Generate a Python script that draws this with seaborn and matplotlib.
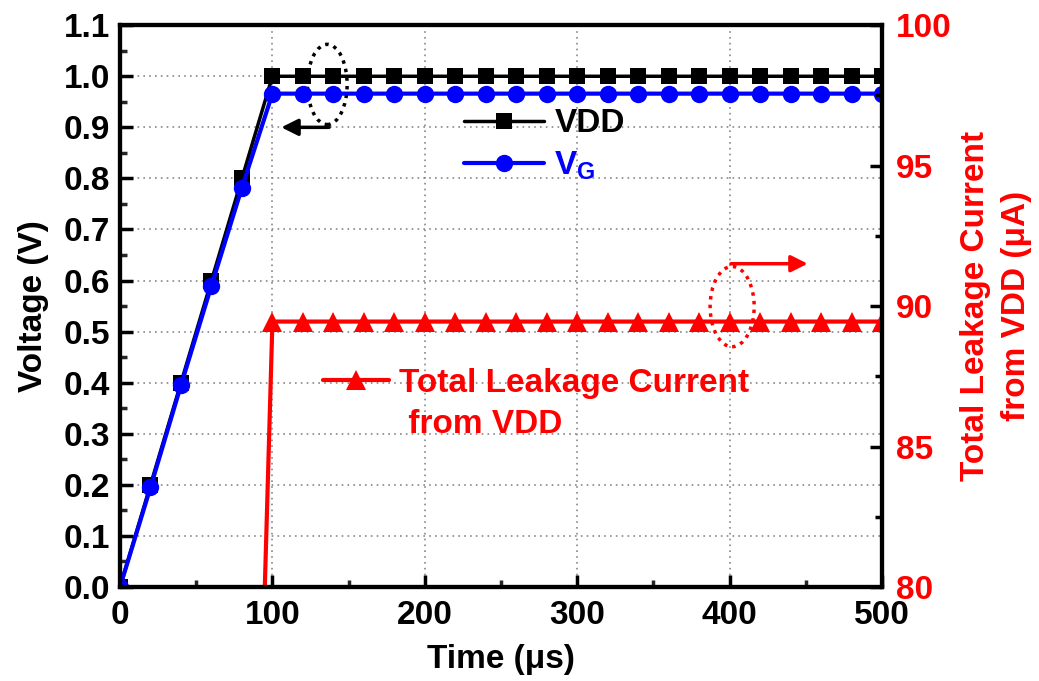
import numpy as np
import pandas as pd
import seaborn as sns
import matplotlib
matplotlib.use("Agg")
import matplotlib.pyplot as plt
from matplotlib.patches import Ellipse
from matplotlib.lines import Line2D
from matplotlib.ticker import MultipleLocator

# ---- data ----
time_v = [0, 20, 40, 60, 80, 100, 120, 140, 160, 180, 200, 220, 240, 260, 280,
          300, 320, 340, 360, 380, 400, 420, 440, 460, 480, 500]
vdd = [0.0, 0.2, 0.4, 0.6, 0.8] + [1.0] * 21
vg = [0.0, 0.195, 0.395, 0.59, 0.782] + [0.966] * 21
time_i = [95, 100, 120, 140, 160, 180, 200, 220, 240, 260, 280, 300, 320, 340,
          360, 380, 400, 420, 440, 460, 480, 500]
leak = [80.0] + [89.45] * 21
yticks_v = [0.0, 0.1, 0.2, 0.3, 0.4, 0.5, 0.6, 0.7, 0.8, 0.9, 1.0, 1.1]

sns.set_theme(style="ticks")
plt.rcParams['font.family'] = ['Liberation Sans', 'DejaVu Sans']
plt.rcParams['font.weight'] = 'bold'
plt.rcParams['text.color'] = 'black'
plt.rcParams['axes.labelcolor'] = 'black'
plt.rcParams['mathtext.fontset'] = 'custom'
plt.rcParams['mathtext.bf'] = 'Liberation Sans:bold'
plt.rcParams['mathtext.rm'] = 'Liberation Sans:bold'
plt.rcParams['mathtext.it'] = 'Liberation Sans:bold'
plt.rcParams['mathtext.default'] = 'bf'

FS = 24
RED = "#ff0000"
BLUE = "#0000ff"

fig = plt.figure(figsize=(10.39, 6.81), dpi=100)
ax = fig.add_axes([0.1155, 0.138, 0.7335, 0.825])
ax2 = ax.twinx()

df_v = pd.DataFrame({"t": time_v, "VDD": vdd, "VG": vg})
sns.lineplot(data=df_v, x="t", y="VDD", ax=ax, color="black", marker="s",
             markersize=12, linewidth=2.5, markeredgewidth=0, legend=False)
sns.lineplot(data=df_v, x="t", y="VG", ax=ax, color=BLUE, marker="o",
             markersize=12.5, linewidth=3, markeredgewidth=0, legend=False)
df_i = pd.DataFrame({"t": time_i, "I": leak})
sns.lineplot(data=df_i, x="t", y="I", ax=ax2, color=RED, marker="^",
             markersize=15, linewidth=3, markeredgewidth=0,
             markevery=list(range(1, len(time_i))), legend=False)

ax.set_xlim(0, 500)
ax.set_ylim(0, 1.1)
ax2.set_ylim(80, 100)
ax.xaxis.set_major_locator(MultipleLocator(100))
ax.xaxis.set_minor_locator(MultipleLocator(50))
ax.yaxis.set_minor_locator(MultipleLocator(0.05))
ax2.yaxis.set_major_locator(MultipleLocator(5))
ax2.yaxis.set_minor_locator(MultipleLocator(2.5))
ax.set_yticks(yticks_v)
ax.set_yticklabels([f"{v:.1f}" for v in yticks_v])

ax.grid(True, which="major", color="#888888", linestyle=(0, (1, 2.5)), linewidth=1.2)
ax.set_axisbelow(True)

for a in (ax, ax2):
    for s in a.spines.values():
        s.set_linewidth(3)
        s.set_color("black")
ax.tick_params(axis="both", which="major", direction="in", length=9, width=2.5,
               labelsize=FS, pad=7, colors="black", top=False, right=False)
ax.tick_params(axis="x", which="major", pad=9)
ax.tick_params(axis="both", which="minor", direction="in", length=5, width=2.5,
               top=False, right=False)
ax2.tick_params(axis="y", which="major", direction="in", length=9, width=2.5,
                labelsize=FS, labelcolor=RED, color="black", pad=10)
ax2.tick_params(axis="y", which="minor", direction="in", length=5, width=2.5, color="black")
for lab in ax.get_xticklabels() + ax.get_yticklabels() + ax2.get_yticklabels():
    lab.set_fontweight("bold")

ax.set_xlabel("Time (μs)", fontsize=FS, fontweight="bold", labelpad=10, color="black")
ax.set_ylabel("Voltage (V)", fontsize=FS, fontweight="bold", labelpad=11, color="black")
ax2.set_ylabel("Total Leakage Current\nfrom VDD (μA)", fontsize=FS, fontweight="bold",
               color=RED, labelpad=6, linespacing=1.4)

# legends
h1 = Line2D([], [], color="black", marker="s", markersize=12, linewidth=2.5, markeredgewidth=0)
h2 = Line2D([], [], color=BLUE, marker="o", markersize=12.5, linewidth=3, markeredgewidth=0)
leg1 = ax.legend([h1, h2], ["VDD", r"V$_\mathbf{G}$"], loc="upper left",
                 bbox_to_anchor=(0.452, 0.852), frameon=False, fontsize=FS,
                 handlelength=2.4, handletextpad=0.3, labelspacing=0.3,
                 borderpad=0, borderaxespad=0)
for t, c in zip(leg1.get_texts(), ["black", BLUE]):
    t.set_color(c)
    t.set_fontweight("bold")
ax.add_artist(leg1)
h3 = Line2D([], [], color=RED, marker="^", markersize=15, linewidth=3, markeredgewidth=0)
h4 = Line2D([], [], linestyle="none", marker=None)
leg2 = ax.legend([h3, h4], ["Total Leakage Current", " from VDD"], loc="upper left",
                 bbox_to_anchor=(0.266, 0.39), frameon=False, fontsize=FS,
                 handlelength=2.0, handletextpad=0.3, labelspacing=0.3,
                 borderpad=0, borderaxespad=0)
for t in leg2.get_texts():
    t.set_color(RED)
    t.set_fontweight("bold")

# ellipses and arrows
e1 = Ellipse((136, 0.984), 26, 0.157, fill=False, edgecolor="black",
             linestyle=(0, (1, 1.5)), linewidth=2.5)
ax.add_patch(e1)
ax.annotate("", xy=(104, 0.9), xytext=(139, 0.9),
            arrowprops=dict(arrowstyle="-|>", color="black", lw=2.5, mutation_scale=25))
e2 = Ellipse((401.6, 0.549), 28.9, 0.157, fill=False, edgecolor=RED,
             linestyle=(0, (1, 1.5)), linewidth=2.5)
ax.add_patch(e2)
ax.annotate("", xy=(453, 0.633), xytext=(399, 0.633),
            arrowprops=dict(arrowstyle="-|>", color=RED, lw=2.5, mutation_scale=25))

fig.savefig("out.png", dpi=100)
